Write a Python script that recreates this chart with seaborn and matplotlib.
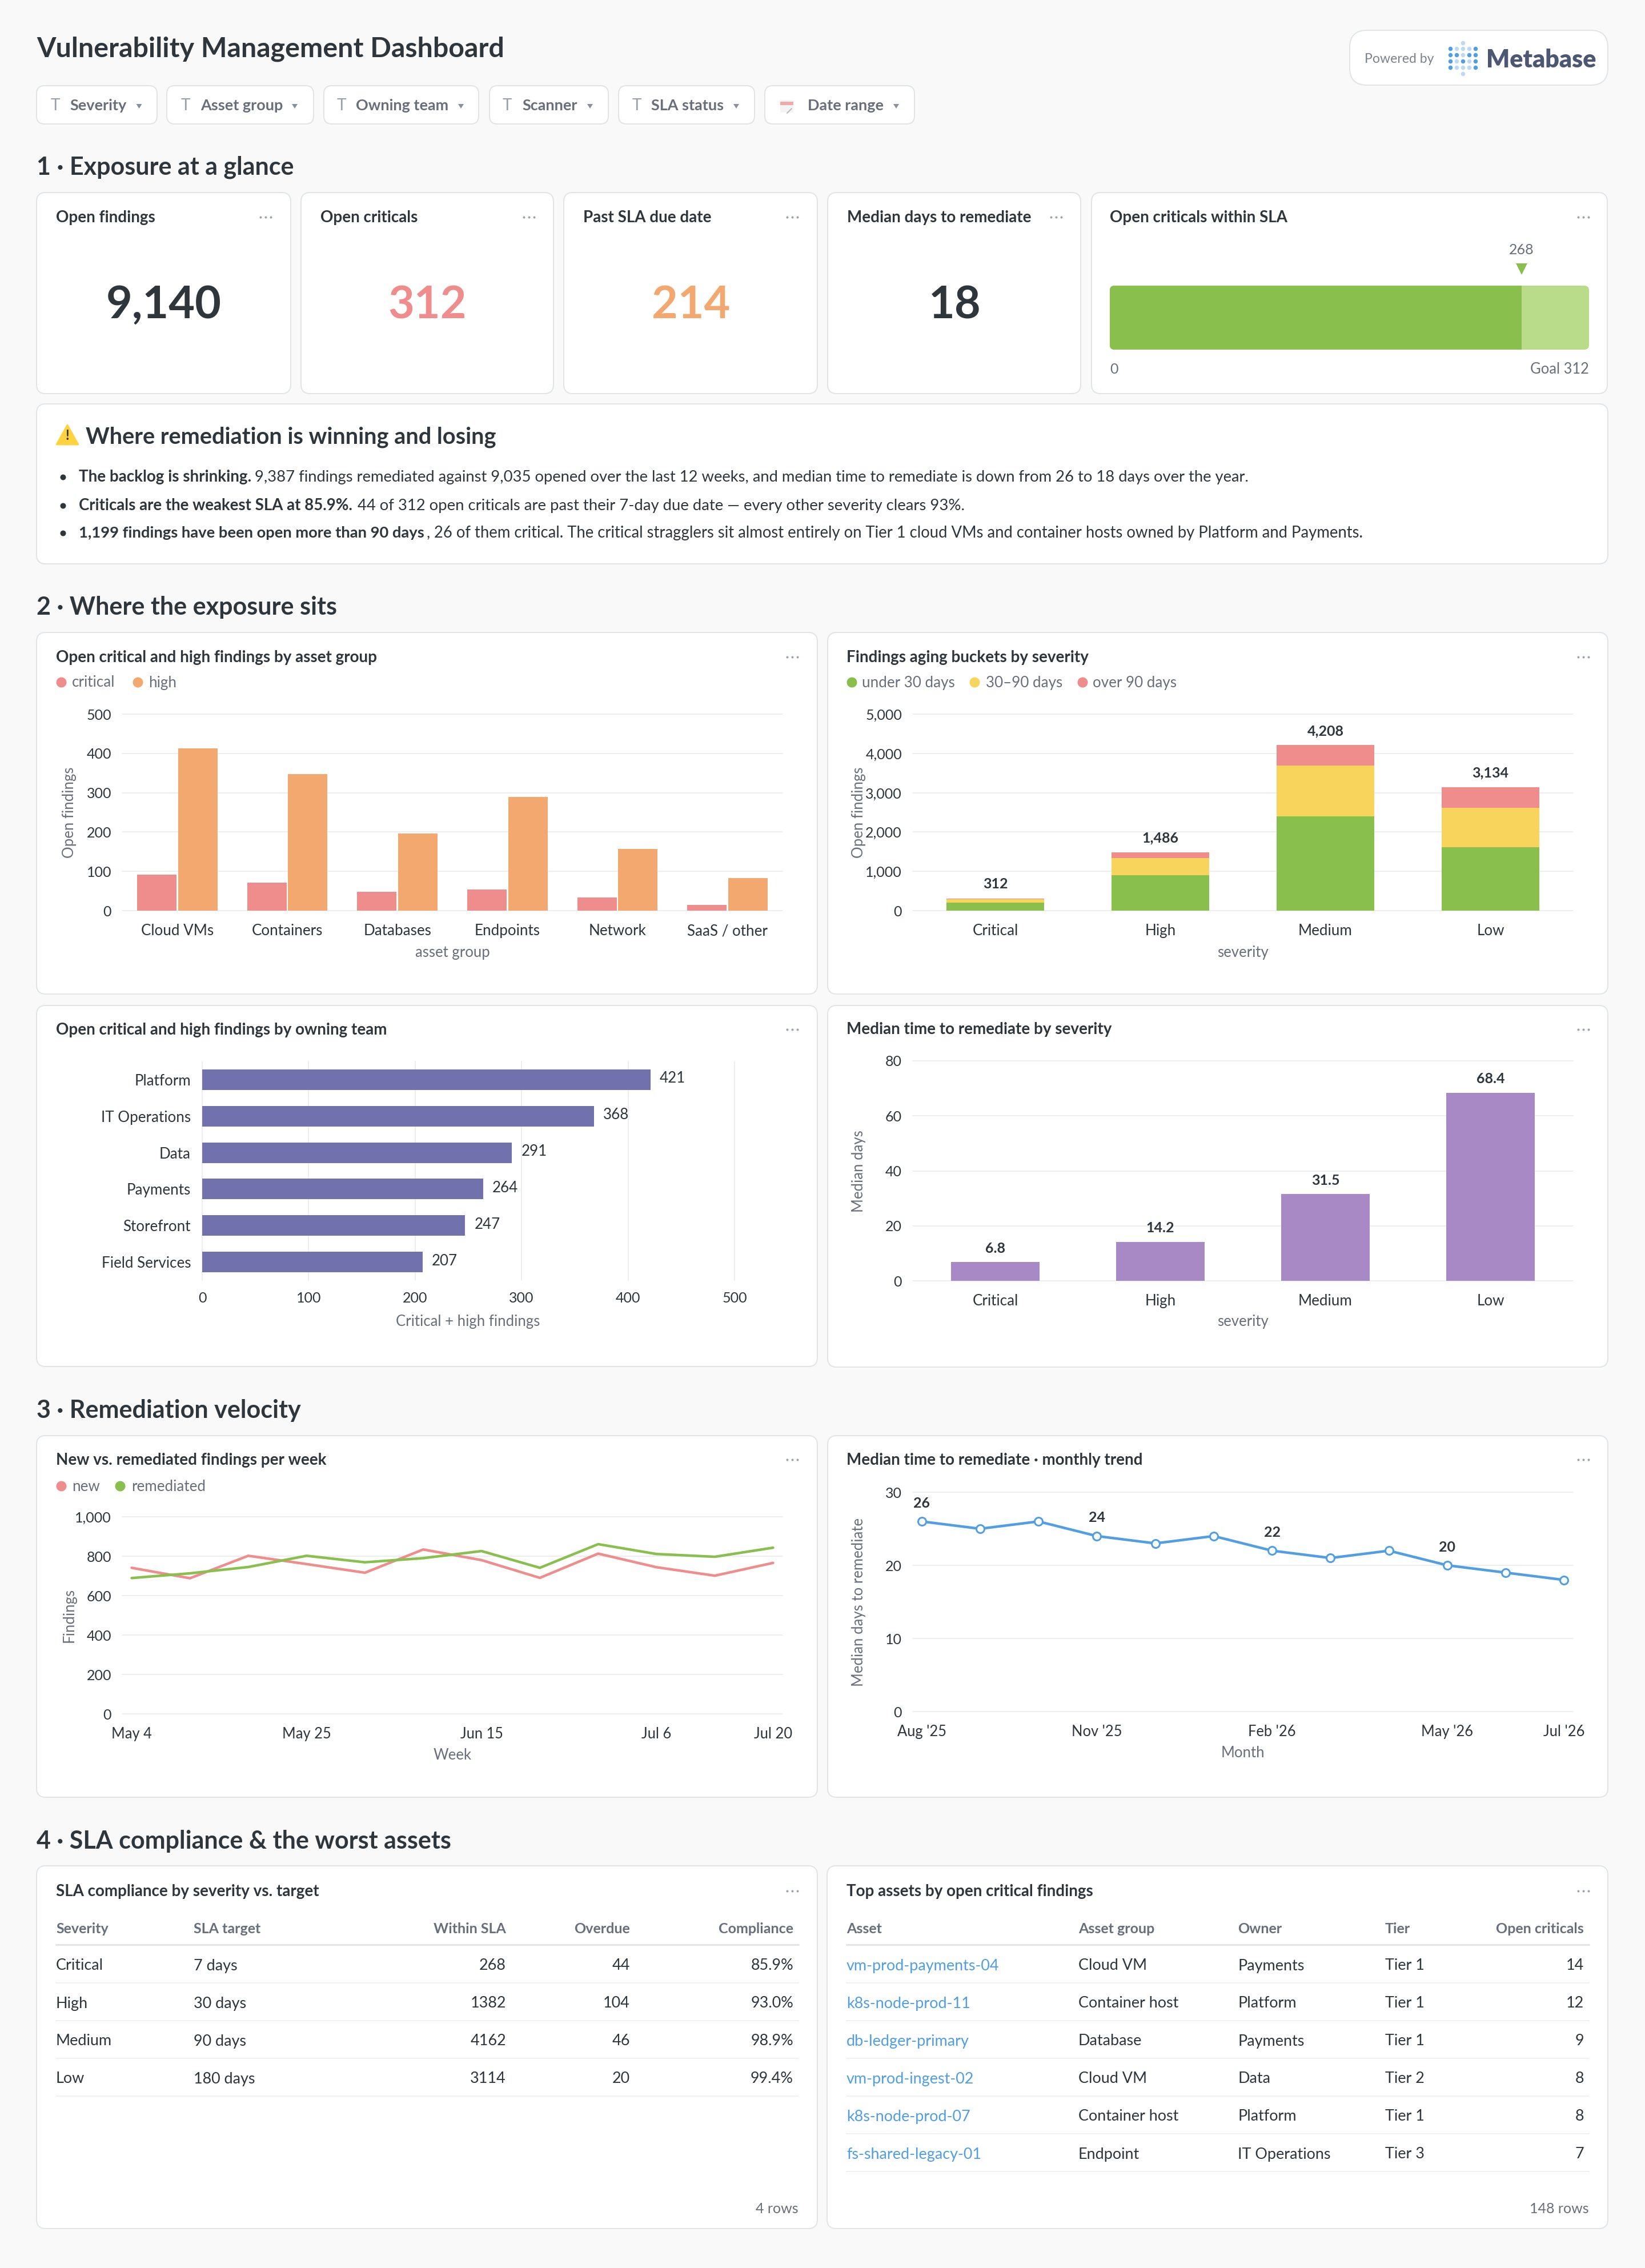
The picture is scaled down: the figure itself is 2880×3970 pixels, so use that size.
import matplotlib
matplotlib.use("Agg")
import matplotlib.pyplot as plt
from matplotlib.patches import FancyBboxPatch, Polygon, Rectangle
from matplotlib.ticker import StrMethodFormatter
import numpy as np
import pandas as pd
import seaborn as sns

# ---------- data ----------
filters = ["Severity", "Asset group", "Owning team", "Scanner", "SLA status", "Date range"]
kpi_titles = ["Open findings", "Open criticals", "Past SLA due date", "Median days to remediate"]
kpi_values = ["9,140", "312", "214", "18"]
within_sla = 268
open_criticals = 312

asset_groups = ["Cloud VMs", "Containers", "Databases", "Endpoints", "Network", "SaaS / other"]
asset_critical = [92, 71, 48, 54, 33, 14]
asset_high = [413, 348, 196, 289, 157, 83]

severities = ["Critical", "High", "Medium", "Low"]
age_under30 = [208, 900, 2405, 1612]
age_30to90 = [78, 436, 1293, 1009]
age_over90 = [26, 150, 510, 513]

teams = ["Platform", "IT Operations", "Data", "Payments", "Storefront", "Field Services"]
team_findings = [421, 368, 291, 264, 247, 207]

mttr_days = [6.8, 14.2, 31.5, 68.4]

weeks = ["May 4", "May 11", "May 18", "May 25", "Jun 1", "Jun 8", "Jun 15", "Jun 22", "Jun 29", "Jul 6", "Jul 13", "Jul 20"]
week_ticks = ["May 4", "May 25", "Jun 15", "Jul 6", "Jul 20"]
new_findings = [741, 688, 802, 760, 716, 834, 780, 690, 813, 744, 701, 766]
remediated = [689, 713, 745, 802, 769, 790, 826, 741, 861, 811, 797, 843]

months = ["Aug '25", "Sep '25", "Oct '25", "Nov '25", "Dec '25", "Jan '26", "Feb '26", "Mar '26", "Apr '26", "May '26", "Jun '26", "Jul '26"]
month_ticks = ["Aug '25", "Nov '25", "Feb '26", "May '26", "Jul '26"]
month_median = [26, 25, 26, 24, 23, 24, 22, 21, 22, 20, 19, 18]
month_labelled = ["Aug '25", "Nov '25", "Feb '26", "May '26"]

sla_header = ["Severity", "SLA target", "Within SLA", "Overdue", "Compliance"]
sla_rows = [["Critical", "7 days", "268", "44", "85.9%"],
            ["High", "30 days", "1382", "104", "93.0%"],
            ["Medium", "90 days", "4162", "46", "98.9%"],
            ["Low", "180 days", "3114", "20", "99.4%"]]
asset_header = ["Asset", "Asset group", "Owner", "Tier", "Open criticals"]
asset_rows = [["vm-prod-payments-04", "Cloud VM", "Payments", "Tier 1", "14"],
              ["k8s-node-prod-11", "Container host", "Platform", "Tier 1", "12"],
              ["db-ledger-primary", "Database", "Payments", "Tier 1", "9"],
              ["vm-prod-ingest-02", "Cloud VM", "Data", "Tier 2", "8"],
              ["k8s-node-prod-07", "Container host", "Platform", "Tier 1", "8"],
              ["fs-shared-legacy-01", "Endpoint", "IT Operations", "Tier 3", "7"]]

insight_bold = ["The backlog is shrinking.", "Criticals are the weakest SLA at 85.9%.",
                "1,199 findings have been open more than 90 days"]
insight_rest = ["9,387 findings remediated against 9,035 opened over the last 12 weeks, and median time to remediate is down from 26 to 18 days over the year.",
                "44 of 312 open criticals are past their 7-day due date \u2014 every other severity clears 93%.",
                "26 of them critical. The critical stragglers sit almost entirely on Tier 1 cloud VMs and container hosts owned by Platform and Payments."]

# ---------- style ----------
W, H = 2880, 3970
sns.set_theme(style="white")
plt.rcParams["font.family"] = ["Lato", "DejaVu Sans"]
plt.rcParams["axes.unicode_minus"] = False

BG = "#F9F9FA"; BORDER = "#E1E4E6"; DARK = "#2E353B"; GREY = "#696E7B"; GRID = "#EDEEF0"
RED = "#EF8C8C"; ORANGE = "#F2A86F"; GREEN = "#88BF4D"; LGREEN = "#B9DC8B"; YELLOW = "#F9D45C"
PURPLE = "#7172AD"; LILAC = "#A989C5"; BLUE = "#509EE3"
PX = 0.72
TITLE_PX = 27.8
BODY_PX = 27
LABEL_PX = 25.8

fig = plt.figure(figsize=(W / 100, H / 100), dpi=100, facecolor=BG)
bg = fig.add_axes([0, 0, 1, 1], zorder=0)
bg.set_xlim(0, W); bg.set_ylim(H, 0); bg.axis("off")
fig.canvas.draw()
rend = fig.canvas.get_renderer()


def T(x, y, s, px=26, color=DARK, weight="normal", ha="left", va="center", **kw):
    return bg.text(x, y, s, fontsize=px * PX, color=color, fontweight=weight, ha=ha, va=va, **kw)


def fit(x0, x1, y, s, color=DARK, weight="normal"):
    t = T(x0, y, s, 27, color, weight, zorder=3)
    w = t.get_window_extent(rend).width
    t.set_fontsize(27 * PX * (x1 - x0) / w)
    return t


def card(x0, y0, x1, y1, r=16, ec=BORDER, lw=2):
    p = FancyBboxPatch((x0, y0), x1 - x0, y1 - y0, boxstyle=f"round,pad=0,rounding_size={r}",
                       fc="white", ec=ec, lw=lw * PX, zorder=1)
    bg.add_patch(p)
    return p


def dots(x, y):
    bg.plot([x - 9, x, x + 9], [y, y, y], ls="", marker="o", ms=4 * PX, color="#9CA2AD", mew=0, zorder=3)


def legend(y, items):
    for dx, tx, color, label in items:
        bg.plot([dx], [y], ls="", marker="o", ms=18 * PX, color=color, mew=0, zorder=3)
        T(tx, y + 1, label, 26, GREY, zorder=3)


def chart_ax(x0, x1, ytop, ybot):
    ax = fig.add_axes([x0 / W, 1 - ybot / H, (x1 - x0) / W, (ybot - ytop) / H], zorder=2)
    ax.patch.set_alpha(0)
    for s in ax.spines.values():
        s.set_visible(False)
    ax.set_axisbelow(True)
    return ax


def style(ax, grid_axis, xlabel, xlab_xy, ylabel=None, ylab_xy=None, xpad=23, ypad=19, xsize=26, ysize=25):
    ax.grid(False)
    ax.grid(True, axis=grid_axis, color=GRID, lw=2 * PX, clip_on=False)
    ax.tick_params(axis="both", length=0, labelcolor=DARK)
    ax.tick_params(axis="x", pad=xpad * PX, labelsize=xsize * PX)
    ax.tick_params(axis="y", pad=ypad * PX, labelsize=ysize * PX)
    ax.set_xlabel(xlabel, fontsize=LABEL_PX * PX, color=GREY, ha="center", va="center")
    ax.xaxis.set_label_coords(xlab_xy[0], xlab_xy[1], transform=bg.transData)
    ax.set_ylabel(ylabel or "", fontsize=LABEL_PX * PX, color=GREY, ha="center", va="center")
    if ylabel:
        ax.yaxis.set_label_coords(ylab_xy[0], ylab_xy[1], transform=bg.transData)


def labels_above(ax, xs, ys, texts, offset_px):
    for x, y, t in zip(xs, ys, texts):
        ax.annotate(t, (x, y), xytext=(0, offset_px * PX), textcoords="offset points",
                    ha="center", va="center", fontsize=25 * PX, fontweight="bold", color=DARK)


# ---------- header ----------
T(64, 86, "Vulnerability Management Dashboard", 48.3, DARK, "bold")

# logo
card(2363, 53, 2815, 149, r=30)
T(2389, 103, "Powered by", 23, "#7C828D", zorder=3)
logo_rows = [[1, 0, 0, 0, 1], [1, 1, 0, 1, 1], [1, 0, 1, 0, 1], [1, 0, 0, 0, 1]]
for yy, row in zip([85, 96, 107, 118], logo_rows):
    for xx, on in zip([2539, 2550, 2561, 2572, 2583], row):
        bg.plot([xx], [yy], ls="", marker="o", ms=7.5 * PX, mew=0, color=BLUE if on else "#BFD9F3", zorder=3)
for yy in (75, 129):
    bg.plot([2561], [yy], ls="", marker="o", ms=7.5 * PX, mew=0, color="#BFD9F3", zorder=3)
T(2602, 105, "Metabase", 43, "#4C5773", "heavy", zorder=3)

# filters
f_boxes = [(64, 275), (292, 549), (567, 838), (857, 1065), (1083, 1321), (1339, 1601)]
f_text = [122, 351, 623, 914, 1140, 1414]
f_icon = [97, 325, 598, 888, 1115]
f_caret = [243.5, 516, 807, 1033, 1289, 1569]
for (a, b), tx, cx, name in zip(f_boxes, f_text, f_caret, filters):
    card(a, 150, b, 217, r=14)
    T(tx, 185, name, 27, GREY, "bold", zorder=3)
    bg.add_patch(Polygon([[cx - 5, 182], [cx + 5, 182], [cx, 190]], fc="#8A909B", ec="none", zorder=3))
for ix in f_icon:
    T(ix, 185, "T", 28, "#9AA0AB", ha="center", zorder=3)
bg.add_patch(Rectangle((1366, 175), 23, 22, fc="#F4F4F4", ec="none", zorder=3))
bg.add_patch(Rectangle((1366, 178), 23, 6, fc="#EFA9A9", ec="none", zorder=3))
bg.plot([1378, 1386], [198, 190], color="#B8BCC2", lw=1.5, zorder=3)

# section headers
for y, s in [(293, "1 \u00b7 Exposure at a glance"), (1063, "2 \u00b7 Where the exposure sits"),
             (2469, "3 \u00b7 Remediation velocity"), (3223, "4 \u00b7 SLA compliance & the worst assets")]:
    T(64, y, s, 43, DARK, "bold")

# ---------- KPI cards ----------
kpi_boxes = [(64, 509), (527, 969), (987, 1431), (1449, 1892)]
kpi_colors = [DARK, RED, ORANGE, DARK]
kpi_dots = [465, 926, 1387, 1849]
kpi_center = [287, 748, 1210, 1672]
for (a, b), t, v, c, d, cx in zip(kpi_boxes, kpi_titles, kpi_values, kpi_colors, kpi_dots, kpi_center):
    card(a, 337, b, 689)
    T(a + 34, 381, t, TITLE_PX, DARK, "bold", zorder=3)
    dots(d, 380)
    T(cx, 535, v, 79, c, "bold", ha="center", zorder=3)

# gauge
card(1911, 337, 2814, 689)
T(1943, 381, "Open criticals within SLA", TITLE_PX, DARK, "bold", zorder=3)
dots(2771.5, 380)
gauge_clip = FancyBboxPatch((1943, 500), 839, 112, boxstyle="round,pad=0,rounding_size=8", fc="none", ec="none")
bg.add_patch(gauge_clip)
gx = chart_ax(1943, 2782, 500, 612)
sns.barplot(x=[open_criticals], y=["SLA"], orient="h", color=LGREEN, saturation=1, width=1, ax=gx, linewidth=0)
sns.barplot(x=[within_sla], y=["SLA"], orient="h", color=GREEN, saturation=1, width=1, ax=gx, linewidth=0)
gx.set_xlim(0, open_criticals); gx.set_ylim(0.5, -0.5)
gx.set_xticks([]); gx.set_yticks([]); gx.set_xlabel(""); gx.set_ylabel("")
for b in gx.patches:
    b.set_clip_path(gauge_clip)
gx.plot([within_sla], [-0.76], ls="", marker="v", ms=20 * PX, color=GREEN, mew=0, clip_on=False)
gx.annotate(str(within_sla), (within_sla, -0.5), xytext=(0, 63 * PX), textcoords="offset points", ha="center",
            va="center", fontsize=25 * PX, color=GREY, annotation_clip=False)
T(1943, 646, "0", 25, GREY, zorder=3)
T(2782, 646, f"Goal {open_criticals}", 25.5, GREY, ha="right", zorder=3)

# ---------- insight card ----------
card(64, 707, 2815, 987)
bg.add_patch(Polygon([[118, 744], [137, 778], [99, 778]], fc="#FFD23F", ec="#FFD23F", lw=2, joinstyle="round", zorder=3))
T(118, 762, "!", 24, "#3A3A3A", "bold", ha="center", zorder=4)
T(150, 765, "Where remediation is winning and losing", 39.8, DARK, "bold", zorder=3)
bold_end = [440, 618, 744]
rest_span = [(446, 2187), (626, 1687), (760, 2390)]
for y, b, r, be, (r0, r1) in zip([835, 885, 933], insight_bold, insight_rest, bold_end, rest_span):
    bg.plot([110], [y], ls="", marker="o", ms=10 * PX, color=DARK, mew=0, zorder=3)
    fit(138, be, y, b, DARK, "bold")
    fit(r0, r1, y, r, DARK)
T(746, 933, ",", 27, DARK, zorder=3)

# ---------- asset group chart ----------
card(64, 1107, 1431, 1740)
T(98, 1151, "Open critical and high findings by asset group", TITLE_PX, DARK, "bold", zorder=3)
dots(1387, 1150)
legend(1194, [(107, 126, RED, "critical"), (241, 260, ORANGE, "high")])
ax = chart_ax(214, 1370, 1250, 1594)
df = pd.DataFrame({"group": asset_groups * 2, "n": asset_critical + asset_high,
                   "sev": ["critical"] * 6 + ["high"] * 6})
sns.barplot(df, x="group", y="n", hue="sev", palette={"critical": RED, "high": ORANGE}, saturation=1,
            width=.745, gap=.04, legend=False, ax=ax, linewidth=0)
ax.set_ylim(0, 500); ax.set_xlim(-.5, 5.5); ax.set_yticks(range(0, 501, 100))
style(ax, "y", "asset group", (792, 1667), "Open findings", (121, 1422))

# ---------- aging chart ----------
card(1449, 1107, 2815, 1740)
T(1482, 1151, "Findings aging buckets by severity", TITLE_PX, DARK, "bold", zorder=3)
dots(2771.5, 1150)
legend(1194, [(1491, 1509, GREEN, "under 30 days"), (1706, 1726, YELLOW, "30\u201390 days"), (1895, 1913, RED, "over 90 days")])
ax = chart_ax(1598, 2754, 1250, 1594)
c1 = np.array(age_under30); c2 = c1 + np.array(age_30to90); c3 = c2 + np.array(age_over90)
for vals, col in [(c3, RED), (c2, YELLOW), (c1, GREEN)]:
    sns.barplot(x=severities, y=vals, color=col, saturation=1, width=.594, ax=ax, linewidth=0)
ax.set_ylim(0, 5000); ax.set_xlim(-.5, 3.5); ax.set_yticks(range(0, 5001, 1000))
ax.yaxis.set_major_formatter(StrMethodFormatter("{x:,.0f}"))
style(ax, "y", "severity", (2176, 1667), "Open findings", (1504, 1422))
labels_above(ax, range(4), c3, [f"{v:,}" for v in c3], 25)

# ---------- owner chart ----------
card(64, 1760, 1431, 2392)
T(98, 1803, "Open critical and high findings by owning team", TITLE_PX, DARK, "bold", zorder=3)
dots(1387, 1802)
ax = chart_ax(354, 1286, 1858, 2241)
sns.barplot(x=team_findings, y=teams, orient="h", color=PURPLE, saturation=1, width=.5625, ax=ax, linewidth=0)
ax.set_xlim(0, 500); ax.set_ylim(5.5, -.5); ax.set_xticks(range(0, 501, 100))
style(ax, "x", "Critical + high findings", (819, 2313), xpad=20, ypad=20, xsize=25, ysize=26)
for i, v in enumerate(team_findings):
    ax.annotate(str(v), (v, i), xytext=(16 * PX, 2 * PX), textcoords="offset points", ha="left", va="center",
                fontsize=26 * PX, color=DARK)

# ---------- MTTR chart ----------
card(1449, 1760, 2815, 2393)
T(1482, 1802, "Median time to remediate by severity", TITLE_PX, DARK, "bold", zorder=3)
dots(2771.5, 1802)
ax = chart_ax(1598, 2754, 1857, 2242)
sns.barplot(x=severities, y=mttr_days, color=LILAC, saturation=1, width=.537, ax=ax, linewidth=0)
ax.set_ylim(0, 80); ax.set_xlim(-.5, 3.5); ax.set_yticks(range(0, 81, 20))
style(ax, "y", "severity", (2176, 2313), "Median days", (1504, 2050))
labels_above(ax, range(4), mttr_days, [str(v) for v in mttr_days], 24)

# ---------- weekly lines ----------
card(64, 2513, 1431, 3146)
T(98, 2556, "New vs. remediated findings per week", TITLE_PX, DARK, "bold", zorder=3)
dots(1387, 2555)
legend(2601, [(107, 126, RED, "new"), (210, 230, GREEN, "remediated")])
ax = chart_ax(214, 1370, 2655, 3000)
dw = pd.DataFrame({"i": list(range(12)) * 2, "n": new_findings + remediated, "s": ["new"] * 12 + ["remediated"] * 12})
sns.lineplot(dw, x="i", y="n", hue="s", palette={"new": RED, "remediated": GREEN}, linewidth=4.5 * PX,
             legend=False, ax=ax)
ax.set_ylim(0, 1000); ax.set_xlim(-16.5 / 102.1, 11 + 16.5 / 102.1)
ax.set_yticks(range(0, 1001, 200)); ax.yaxis.set_major_formatter(StrMethodFormatter("{x:,.0f}"))
ax.set_xticks([weeks.index(w) for w in week_ticks], week_ticks)
style(ax, "y", "Week", (792, 3073), "Findings", (121, 2827), xsize=25.5)

# ---------- monthly trend ----------
card(1449, 2513, 2815, 3146)
T(1482, 2556, "Median time to remediate \u00b7 monthly trend", TITLE_PX, DARK, "bold", zorder=3)
dots(2771.5, 2555)
ax = chart_ax(1598, 2754, 2612, 2996)
dm = pd.DataFrame({"i": range(12), "d": month_median})
sns.lineplot(dm, x="i", y="d", color=BLUE, linewidth=4.5 * PX, marker="o", markersize=14 * PX,
             markerfacecolor="white", markeredgecolor=BLUE, markeredgewidth=3 * PX, ax=ax, clip_on=False)
ax.set_ylim(0, 30); ax.set_xlim(-15.6 / 102.2, 11 + 15.6 / 102.2); ax.set_yticks([0, 10, 20, 30])
ax.set_xticks([months.index(m) for m in month_ticks], month_ticks)
style(ax, "y", "Month", (2176, 3068), "Median days to remediate", (1504, 2804), xsize=25.5)
idx = [months.index(m) for m in month_labelled]
labels_above(ax, idx, [month_median[i] for i in idx], [str(month_median[i]) for i in idx], 32)

# ---------- tables ----------
row_text_y = [3441, 3507, 3573, 3639, 3705, 3771]
row_rule_y = [3471, 3537, 3603, 3669, 3735, 3801]


def table(x0, x1, title, dots_x, header, rows, cols, aligns, footer, link_first=False):
    card(x0 - 34, 3266, x1 + 33, 3901)
    T(x0, 3311, title, TITLE_PX, DARK, "bold", zorder=3)
    dots(dots_x, 3310)
    for s, cx, al in zip(header, cols, aligns):
        T(cx, 3377, s, 25, GREY, "bold", ha=al, zorder=3)
    bg.plot([x0, x1], [3404, 3404], color="#E3E5E8", lw=3 * PX, zorder=3)
    for r, row in enumerate(rows):
        for j, (s, cx, al) in enumerate(zip(row, cols, aligns)):
            T(cx, row_text_y[r], s, BODY_PX, BLUE if (link_first and j == 0) else DARK, ha=al, zorder=3)
        bg.plot([x0, x1], [row_rule_y[r]] * 2, color="#F0F1F2", lw=2 * PX, zorder=3)
    T(x1, 3866, footer, 25, GREY, ha="right", zorder=3)


table(98, 1398, "SLA compliance by severity vs. target", 1387, sla_header, sla_rows,
      [98, 339, 886, 1103, 1389], ["left", "left", "right", "right", "right"], "4 rows")
table(1482, 2782, "Top assets by open critical findings", 2771.5, asset_header, asset_rows,
      [1482, 1888, 2167, 2425, 2773], ["left", "left", "left", "left", "right"], "148 rows", link_first=True)

fig.savefig("out.png", dpi=100, facecolor=BG)
